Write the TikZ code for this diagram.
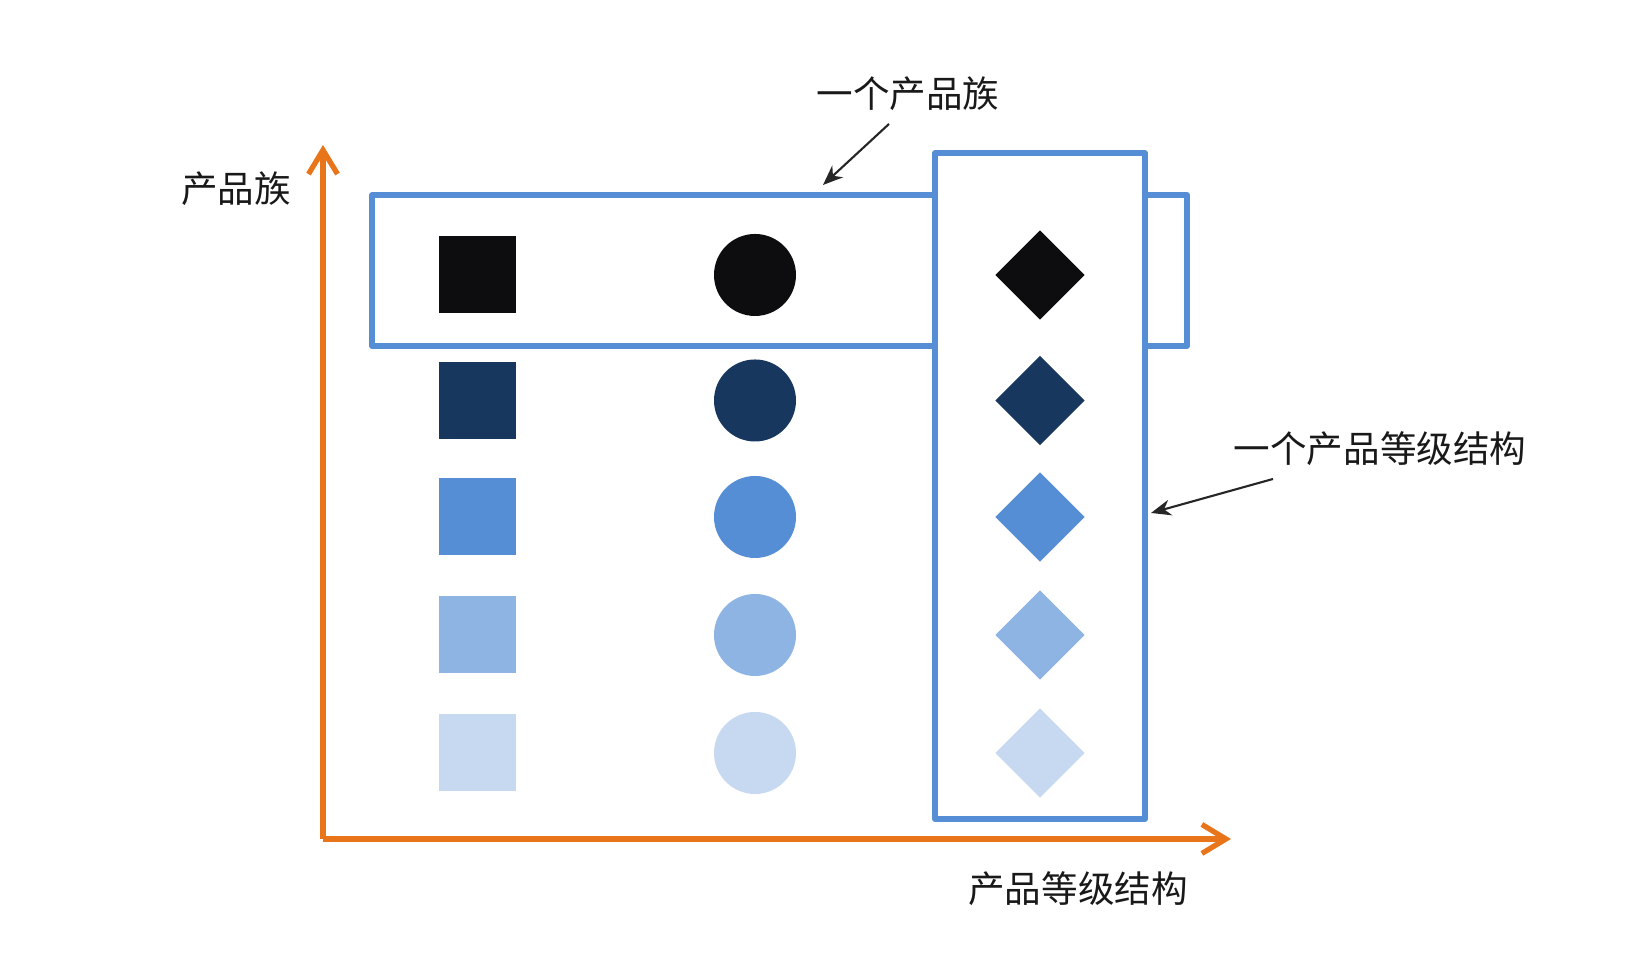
\documentclass[tikz,border=0pt]{standalone}
\usepackage{fontspec}
\newfontfamily\cjk{Noto Sans CJK SC}
\usepackage{xcolor}
\usepackage{tikz}
\usetikzlibrary{arrows.meta,shapes.geometric}
\definecolor{axisorange}{HTML}{E8751A}
\definecolor{frameblue}{HTML}{558ED5}
\definecolor{tone0}{HTML}{0D0D0F}
\definecolor{tone1}{HTML}{17375E}
\definecolor{tone2}{HTML}{558ED5}
\definecolor{tone3}{HTML}{8EB4E3}
\definecolor{tone4}{HTML}{C6D9F1}

\begin{document}
\begin{tikzpicture}[line join=round,
  axis/.style={draw=axisorange,line width=1.5pt,-{Straight Barb[length=2.4mm,width=2.9mm,line width=1.5pt]}},
  frame/.style={draw=frameblue,line width=1.5pt},
  sq/.style={rectangle,inner sep=0pt,minimum size=0.77cm},
  dot/.style={circle,inner sep=0pt,minimum size=0.82cm},
  rhomb/.style={diamond,inner sep=0pt,minimum width=0.9cm,minimum height=0.9cm},
  lab/.style={font=\cjk\fontsize{10.4pt}{12pt}\selectfont,text=black!90,inner sep=1pt},
  pointer/.style={draw=black!85,line width=0.6pt,-{Stealth[length=2mm,width=1.6mm]}}]
  \useasboundingbox (0,0) rectangle (16.44,9.54);
  \coordinate (O) at (3.23,1.15);
  \coordinate (Ytip) at (3.23,8.09);
  \coordinate (Xtip) at (12.31,1.15);
  \coordinate (FamTip) at (8.23,7.69);
  \coordinate (LevTip) at (11.51,4.41);
  % axes
  \draw[axis] (O) -- (Ytip);
  \draw[axis] (O) -- (Xtip);
  \node[lab] (ylab) at (2.36,7.65) {产品族};
  \node[lab] (xlab) at (10.78,0.65) {产品等级结构};
  % frames
  \draw[frame] (3.72,6.08) rectangle (11.87,7.59);
  \draw[frame,fill=white] (9.35,1.35) rectangle (11.45,8.01);
  % squares
  \node[sq,fill=tone0] (S0) at (4.775,6.79) {};
  \node[sq,fill=tone1] (S1) at (4.775,5.535) {};
  \node[sq,fill=tone2] (S2) at (4.775,4.37) {};
  \node[sq,fill=tone3] (S3) at (4.775,3.19) {};
  \node[sq,fill=tone4] (S4) at (4.775,2.01) {};
  % circles
  \node[dot,fill=tone0] (C0) at (7.55,6.79) {};
  \node[dot,fill=tone1] (C1) at (7.55,5.535) {};
  \node[dot,fill=tone2] (C2) at (7.55,4.37) {};
  \node[dot,fill=tone3] (C3) at (7.55,3.19) {};
  \node[dot,fill=tone4] (C4) at (7.55,2.01) {};
  % diamonds
  \node[rhomb,fill=tone0] (D0) at (10.40,6.79) {};
  \node[rhomb,fill=tone1] (D1) at (10.40,5.535) {};
  \node[rhomb,fill=tone2] (D2) at (10.40,4.37) {};
  \node[rhomb,fill=tone3] (D3) at (10.40,3.19) {};
  \node[rhomb,fill=tone4] (D4) at (10.40,2.01) {};
  % callouts
  \node[lab] (famlab) at (9.08,8.60) {一个产品族};
  \node[lab] (levlab) at (13.80,5.05) {一个产品等级结构};
  \coordinate (FamStart) at (8.89,8.30);
  \coordinate (LevStart) at (12.73,4.75);
  \draw[pointer] (FamStart) -- (FamTip);
  \draw[pointer] (LevStart) -- (LevTip);
\end{tikzpicture}
\end{document}
